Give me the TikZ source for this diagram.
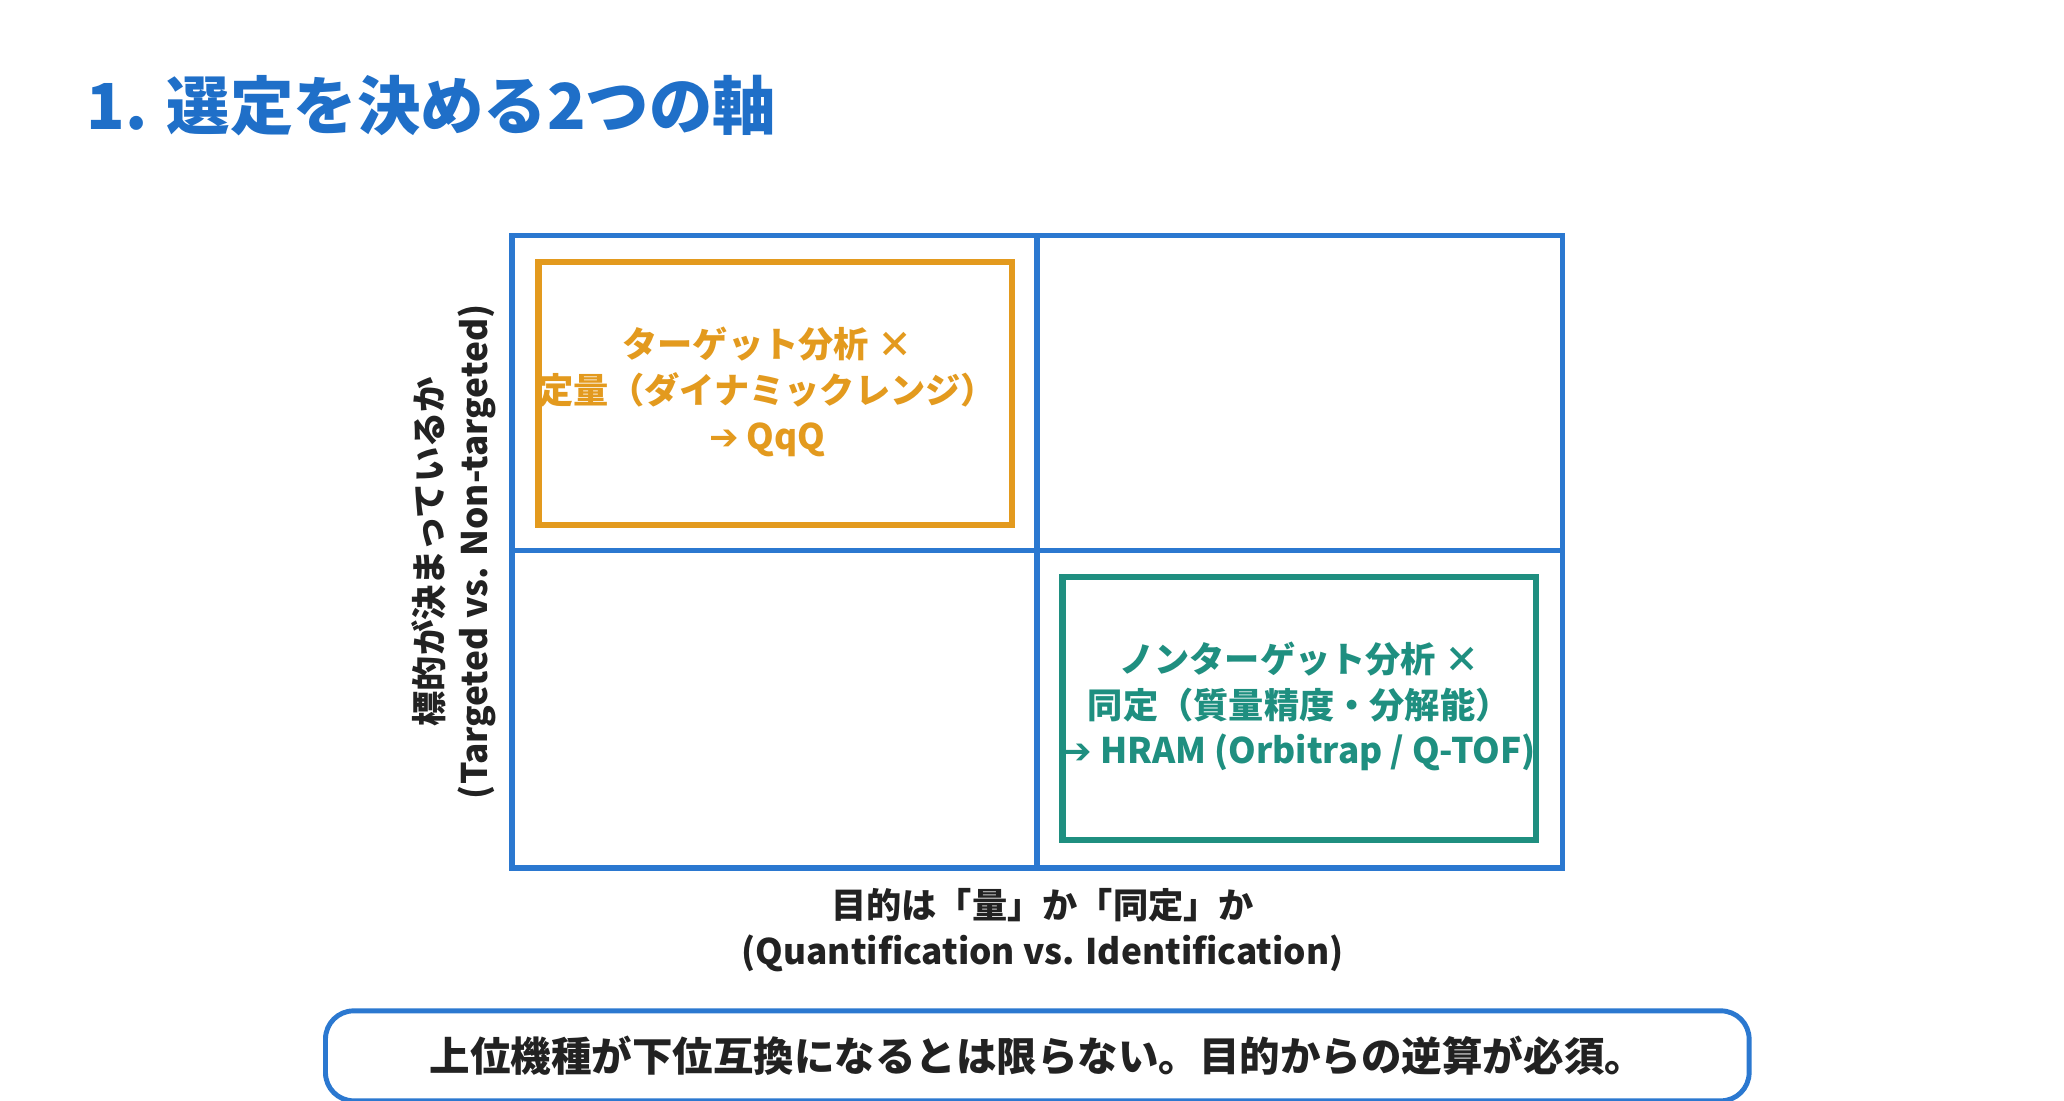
\documentclass[tikz,border=0pt]{standalone}
\usepackage{fontspec}
\setmainfont{Noto Sans CJK JP}
\newfontfamily\dv{DejaVu Sans}
\definecolor{tblue}{HTML}{1F6FC8}
\definecolor{gblue}{HTML}{2B78D0}
\definecolor{orng}{HTML}{E39A1E}
\definecolor{teal}{HTML}{1F8F80}
\definecolor{txt}{HTML}{222222}
\begin{document}
\begin{tikzpicture}[x=0.0132cm,y=-0.0132cm,
  qtext/.style={align=center,font=\fontsize{10}{13}\selectfont\bfseries},
  axis/.style={align=center,font=\fontsize{10}{13}\selectfont\bfseries,text=txt}]
\useasboundingbox (0,0) rectangle (1560,832);
\fill[white] (0,0) rectangle (1560,832);
\node[anchor=west,text=tblue,font=\fontsize{18}{22}\selectfont\bfseries] (title) at (56,80) {1. 選定を決める2つの軸};
\draw[gblue,line width=1.6pt] (387,178) rectangle (1181,656);
\draw[gblue,line width=1.6pt] (784,178) -- (784,656);
\draw[gblue,line width=1.6pt] (387,416) -- (1181,416);
\node[draw=orng,line width=1.8pt,minimum width=358*0.0132cm,minimum height=199*0.0132cm] (tq) at (586,297.5) {};
\node[qtext,text=orng] (tqt) at (580,296) {ターゲット分析 ×\\定量（ダイナミックレンジ）\\{\dv ➔} QqQ};
\node[draw=teal,line width=1.8pt,minimum width=358*0.0132cm,minimum height=199*0.0132cm] (nt) at (982,535.5) {};
\node[qtext,text=teal] (ntt) at (982,534) {ノンターゲット分析 ×\\同定（質量精度・分解能）\\{\dv ➔} HRAM (Orbitrap / Q-TOF)};
\node[axis] (xl) at (788,703) {目的は「量」か「同定」か\\(Quantification vs. Identification)};
\node[axis,rotate=90] (yl) at (343,417) {標的が決まっているか\\(Targeted vs. Non-targeted)};
\node[draw=gblue,line width=1.4pt,rounded corners=8pt,minimum width=1076*0.0132cm,minimum height=68*0.0132cm,text=txt,font=\fontsize{11.5}{14}\selectfont\bfseries] (note) at (784,798) {上位機種が下位互換になるとは限らない。目的からの逆算が必須。};
\end{tikzpicture}
\end{document}
